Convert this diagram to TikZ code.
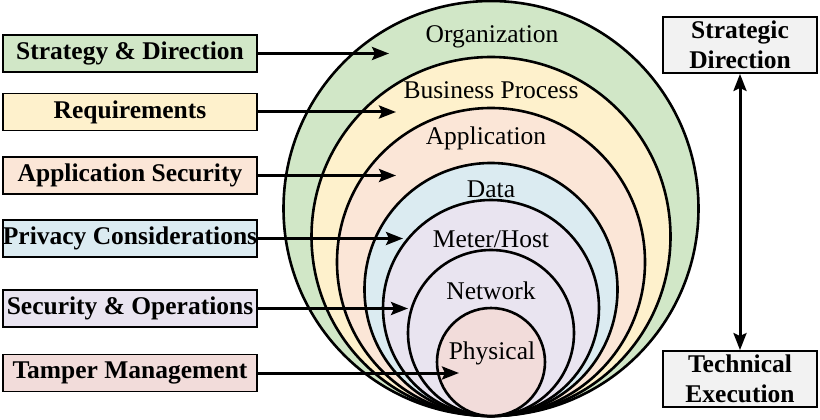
\documentclass[tikz,border=0pt]{standalone}
\usepackage{fontspec}
\setmainfont{Liberation Serif}
\usetikzlibrary{arrows.meta}
\definecolor{cOrg}{HTML}{D1E7C7}
\definecolor{cBP}{HTML}{FEF1CC}
\definecolor{cApp}{HTML}{FBE6D7}
\definecolor{cData}{HTML}{DBEBF1}
\definecolor{cMeter}{HTML}{E9E4F0}
\definecolor{cPhys}{HTML}{F2DCDA}
\definecolor{cGray}{HTML}{F2F2F2}
\tikzset{
  ring/.style={draw=black, line width=2.6pt},
  lbox/.style={draw=black, line width=1.8pt, minimum width=254pt, minimum height=37pt, inner sep=0pt,
    font=\fontsize{25.5}{28}\selectfont\bfseries},
  rbox/.style={draw=black, line width=1.8pt, fill=cGray, minimum width=154pt, minimum height=56pt, inner sep=0pt,
    align=center, font=\fontsize{25.5}{29.5}\selectfont\bfseries},
  ringlabel/.style={font=\fontsize{25.5}{28}\selectfont, inner sep=0pt},
  arr/.style={line width=3pt, -{Stealth[length=17pt,width=13pt,inset=3pt]}},
  darr/.style={line width=3pt, {Stealth[length=17pt,width=13pt,inset=3pt]}-{Stealth[length=17pt,width=13pt,inset=3pt]}},
}
\begin{document}
\begin{tikzpicture}[x=1pt,y=-1pt]
\useasboundingbox (0,0) rectangle (820,420);
% rings (all tangent at the bottom point)
\def\cx{491}
\def\by{416}
\foreach \r/\c in {207.5/cOrg,179.5/cBP,154/cApp,126.5/cData,108/cMeter,83/cMeter,54/cPhys}{
  \draw[ring, fill=\c] (\cx,\by-\r) circle[radius=\r];
}
% ring labels
\node[ringlabel] (lOrg) at (492,37) {Organization};
\node[ringlabel] (lBP) at (491,90) {Business Process};
\node[ringlabel] (lApp) at (486,138) {Application};
\node[ringlabel] (lData) at (491,189) {Data};
\node[ringlabel] (lMeter) at (491,239) {Meter/Host};
\node[ringlabel] (lNet) at (491,291) {Network};
\node[ringlabel] (lPhys) at (492,353) {Physical};
% left boxes
\node[lbox, fill=cOrg] (b1) at (130,53.5) {Strategy \& Direction};
\node[lbox, fill=cBP] (b2) at (130,112) {Requirements};
\node[lbox, fill=cApp] (b3) at (130,175.5) {Application Security};
\node[lbox, fill=cData] (b4) at (130,238.5) {Privacy Considerations};
\node[lbox, fill=cMeter] (b5) at (130,308.5) {Security \& Operations};
\node[lbox, fill=cPhys] (b6) at (130,373) {Tamper Management};
% arrow targets
\coordinate (t1) at (389,53.5);
\coordinate (t2) at (396,112);
\coordinate (t3) at (396,175.5);
\coordinate (t4) at (403,238.5);
\coordinate (t5) at (408,308.5);
\coordinate (t6) at (459,373);
\foreach \i in {1,...,6}{ \draw[arr] (b\i.east) -- (t\i); }
% right boxes
\node[rbox] (sd) at (740,45) {Strategic\\Direction};
\node[rbox] (te) at (740,379) {Technical\\Execution};
\draw[darr] (sd.south) -- (te.north);
\end{tikzpicture}
\end{document}
